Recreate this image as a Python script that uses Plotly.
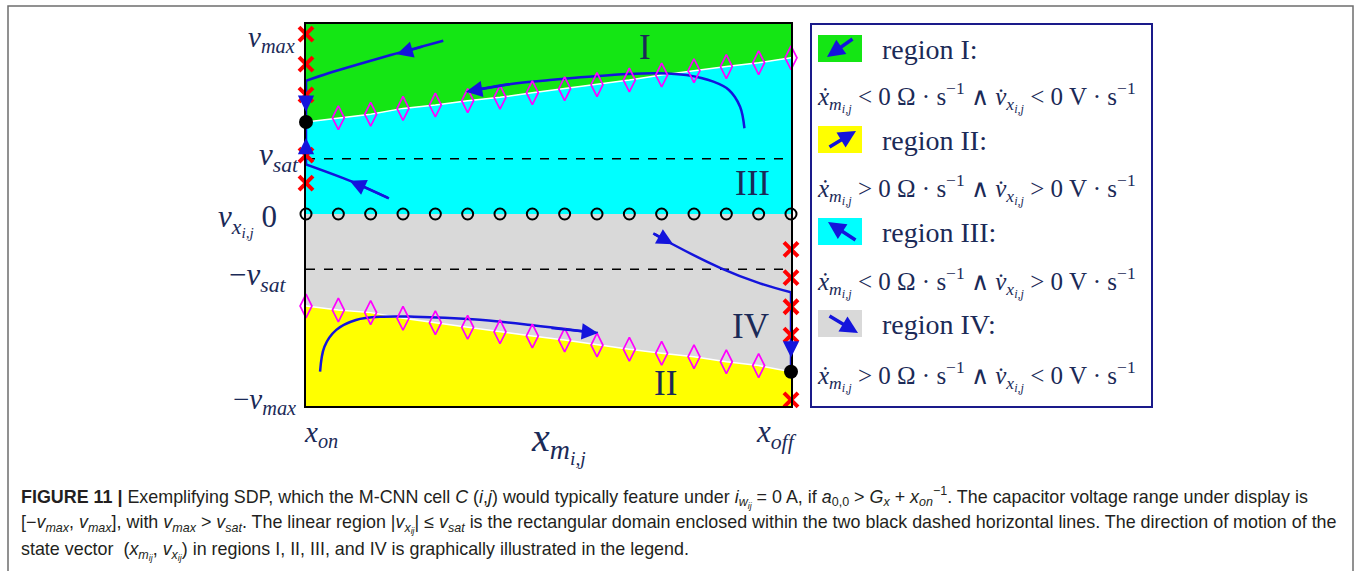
import plotly.graph_objects as go

# ---------------- data ----------------
grid_x = [0.0, 0.0667, 0.1333, 0.2, 0.2667, 0.3333, 0.4, 0.4667,
          0.5333, 0.6, 0.6667, 0.7333, 0.8, 0.8667, 0.9333, 1.0]
upper_boundary = [0.500, 0.523, 0.542, 0.574, 0.592, 0.616, 0.634, 0.659,
                  0.681, 0.703, 0.728, 0.755, 0.779, 0.801, 0.822, 0.849]
lower_boundary = [-0.500, -0.522, -0.536, -0.567, -0.591, -0.616, -0.640, -0.663,
                  -0.685, -0.712, -0.735, -0.757, -0.776, -0.803, -0.824, -0.857]
zero_nullcline = [0.0, 0.0, 0.0, 0.0, 0.0, 0.0, 0.0, 0.0,
                  0.0, 0.0, 0.0, 0.0, 0.0, 0.0, 0.0, 0.0]

v_max = 1.0
v_sat = 0.30
x_on = 0.0
x_off = 1.0

left_cross_y = [0.978, 0.815, 0.647, 0.320, 0.168]
right_cross_y = [-0.192, -0.346, -0.504, -0.658, -1.010]
equilibria_x = [0.0, 1.0]
equilibria_y = [0.500, -0.857]

traj1_x = [0.283, 0.187, 0.103, 0.046, 0.0]
traj1_y = [0.942, 0.873, 0.810, 0.765, 0.724]
traj1v_y = [0.724, 0.500]
traj2_x = [0.904, 0.895, 0.872, 0.840, 0.784, 0.728, 0.663, 0.583, 0.503, 0.423, 0.330]
traj2_y = [0.466, 0.583, 0.674, 0.719, 0.755, 0.765, 0.761, 0.746, 0.728, 0.707, 0.665]
traj3_x = [0.171, 0.095, 0.0]
traj3_y = [0.085, 0.176, 0.270]
traj3v_y = [0.270, 0.500]
traj4_x = [0.716, 0.752, 0.856, 0.936, 1.0]
traj4_y = [-0.105, -0.159, -0.295, -0.377, -0.426]
traj4v_y = [-0.426, -0.857]
traj5_x = [0.029, 0.038, 0.0625, 0.103, 0.159, 0.223, 0.343, 0.463, 0.602]
traj5_y = [-0.857, -0.721, -0.630, -0.576, -0.558, -0.558, -0.572, -0.603, -0.647]

region_names = ["I", "II", "III", "IV"]
region_colors = ["#14e614", "#ffff00", "#00ffff", "#d9d9d9"]
region_signs = [("&lt;", "&lt;"), ("&gt;", "&gt;"), ("&lt;", "&gt;"), ("&gt;", "&lt;")]

y_tick_labels = ["<i>v</i><sub><i>max</i></sub>", "<i>v</i><sub><i>sat</i></sub>",
                 "<i>v</i><sub><i>x</i><sub><i>i,j</i></sub></sub> 0",
                 "−<i>v</i><sub><i>sat</i></sub>", "−<i>v</i><sub><i>max</i></sub>"]
x_tick_labels = ["<i>x</i><sub><i>on</i></sub>", "<i>x</i><sub><i>m</i><sub><i>i,j</i></sub></sub>",
                 "<i>x</i><sub><i>off</i></sub>"]

caption_lines = [
    "<b>FIGURE 11 |</b> Exemplifying SDP, which the M-CNN cell <i>C</i> (<i>i</i>,<i>j</i>) would typically feature under "
    "<i>i</i><sub><i>w</i><sub><i>ij</i></sub></sub> = 0 A, if <i>a</i><sub>0,0</sub> &gt; <i>G</i><sub><i>x</i></sub> + "
    "<i>x</i><sub><i>on</i></sub><sup>−1</sup>. The capacitor voltage range under display is",
    "[−<i>v</i><sub><i>max</i></sub>, <i>v</i><sub><i>max</i></sub>], with <i>v</i><sub><i>max</i></sub> &gt; "
    "<i>v</i><sub><i>sat</i></sub>. The linear region |<i>v</i><sub><i>x</i><sub><i>ij</i></sub></sub>| ≤ "
    "<i>v</i><sub><i>sat</i></sub> is the rectangular domain enclosed within the two black dashed horizontal lines. "
    "The direction of motion of the",
    "state vector  (<i>x</i><sub><i>m</i><sub><i>ij</i></sub></sub>, <i>v</i><sub><i>x</i><sub><i>ij</i></sub></sub>) "
    "in regions I, II, III, and IV is graphically illustrated in the legend.",
]

# ---------------- layout geometry ----------------
W_PX, H_PX = 1356, 571
L, R, T, B = 306, 791, 24, 406
Y_LO, Y_HI = -1.0435, 1.0326


def PX(x):
    return (x - L) / (R - L)


def PY(y):
    return (B - y) / (B - T)


BLUE = "#1414dc"
NAVY = "#1b2a57"
SERIF = "Liberation Serif"

fig = go.Figure()

# region fills
fig.add_trace(go.Scatter(x=grid_x + [x_off, x_on], y=upper_boundary + [Y_HI, Y_HI],
                         fill="toself", fillcolor=region_colors[0], line=dict(width=0),
                         mode="lines", hoverinfo="skip"))
fig.add_trace(go.Scatter(x=grid_x + grid_x[::-1], y=upper_boundary + zero_nullcline[::-1],
                         fill="toself", fillcolor=region_colors[2], line=dict(width=0),
                         mode="lines", hoverinfo="skip"))
fig.add_trace(go.Scatter(x=grid_x + grid_x[::-1], y=zero_nullcline + lower_boundary[::-1],
                         fill="toself", fillcolor=region_colors[3], line=dict(width=0),
                         mode="lines", hoverinfo="skip"))
fig.add_trace(go.Scatter(x=grid_x + [x_off, x_on], y=lower_boundary + [Y_LO, Y_LO],
                         fill="toself", fillcolor=region_colors[1], line=dict(width=0),
                         mode="lines", hoverinfo="skip"))

# white boundary lines
for yb in (upper_boundary, lower_boundary):
    fig.add_trace(go.Scatter(x=grid_x, y=yb, mode="lines",
                             line=dict(color="white", width=1.5), hoverinfo="skip"))

# dashed saturation lines
for yv in (v_sat, -v_sat):
    fig.add_trace(go.Scatter(x=[x_on, x_off], y=[yv, yv], mode="lines",
                             line=dict(color="black", width=1.5, dash="dash"), hoverinfo="skip"))

# trajectories
trajs = [
    (traj1_x, traj1_y), ([x_on, x_on], traj1v_y), (traj2_x, traj2_y),
    (traj3_x, traj3_y), ([x_on, x_on], traj3v_y), (traj4_x, traj4_y),
    ([x_off, x_off], traj4v_y), (traj5_x, traj5_y),
]
for tx, ty in trajs:
    fig.add_trace(go.Scatter(x=tx, y=ty, mode="lines", line=dict(color=BLUE, width=2.5, shape="spline"),
                             hoverinfo="skip", cliponaxis=False))

# nullcline markers
fig.add_trace(go.Scatter(x=grid_x[1:], y=upper_boundary[1:], mode="markers", cliponaxis=False,
                         marker=dict(symbol="diamond-tall-open", size=17, color="#ff00ff", line=dict(width=1.7))))
fig.add_trace(go.Scatter(x=grid_x[:-1], y=lower_boundary[:-1], mode="markers", cliponaxis=False,
                         marker=dict(symbol="diamond-tall-open", size=17, color="#ff00ff", line=dict(width=1.7))))
fig.add_trace(go.Scatter(x=grid_x, y=zero_nullcline, mode="markers", cliponaxis=False,
                         marker=dict(symbol="circle-open", size=11, color="black", line=dict(width=2))))

# red crosses
fig.add_trace(go.Scatter(x=[x_on] * len(left_cross_y), y=left_cross_y, mode="markers", cliponaxis=False,
                         marker=dict(symbol="x-thin-open", size=14, color="#ff0000", line=dict(width=4, color="#ff0000"))))
fig.add_trace(go.Scatter(x=[x_off] * len(right_cross_y), y=right_cross_y, mode="markers", cliponaxis=False,
                         marker=dict(symbol="x-thin-open", size=14, color="#ff0000", line=dict(width=4, color="#ff0000"))))

# equilibria
fig.add_trace(go.Scatter(x=equilibria_x, y=equilibria_y, mode="markers", cliponaxis=False,
                         marker=dict(symbol="circle", size=14, color="black")))

annotations = []

# arrowheads on trajectories
arrow_specs = [
    ((traj1_x[1], traj1_y[1] - 0.005), (traj1_x[0] - 0.04, traj1_y[0] - 0.03)),
    ((x_on, 0.556), (x_on, 0.64)),
    ((traj2_x[-1], traj2_y[-1]), (traj2_x[-2], traj2_y[-2])),
    ((traj3_x[1] - 0.005, traj3_y[1] + 0.005), (traj3_x[0], traj3_y[0])),
    ((x_on, 0.413), (x_on, 0.33)),
    ((traj4_x[1] + 0.005, traj4_y[1] - 0.006), (traj4_x[0], traj4_y[0])),
    ((x_off, -0.78), (x_off, -0.68)),
    ((traj5_x[-1], traj5_y[-1]), (traj5_x[-2] + 0.04, traj5_y[-2] - 0.016)),
]
for (hx, hy), (tx, ty) in arrow_specs:
    annotations.append(dict(x=hx, y=hy, ax=tx, ay=ty, xref="x", yref="y", axref="x", ayref="y",
                            text="", showarrow=True, arrowhead=2, arrowsize=1.3, arrowwidth=2.5,
                            arrowcolor=BLUE))

# region labels
region_label_pos = [(645, 48), (665, 383), (752, 183), (750, 326)]
for name, (lx, ly) in zip(region_names, region_label_pos):
    annotations.append(dict(x=PX(lx), y=PY(ly), xref="paper", yref="paper", text=name, showarrow=False,
                            font=dict(family=SERIF, size=35, color=NAVY), xanchor="center", yanchor="middle"))

# y tick labels
y_label_pos = [(297, 39), (301, 157), (279, 220), (289, 277), (298, 401)]
y_label_size = [29, 31, 31, 31, 29]
for lab, (lx, ly), fs in zip(y_tick_labels, y_label_pos, y_label_size):
    annotations.append(dict(x=PX(lx), y=PY(ly), xref="paper", yref="paper", text=lab, showarrow=False,
                            font=dict(family=SERIF, size=fs, color=NAVY), xanchor="right", yanchor="middle"))
# x tick labels
x_label_pos = [(321, 434, 29), (558, 442, 40), (776, 434, 31)]
for lab, (lx, ly, fs) in zip(x_tick_labels, x_label_pos):
    annotations.append(dict(x=PX(lx), y=PY(ly), xref="paper", yref="paper", text=lab, showarrow=False,
                            font=dict(family=SERIF, size=fs, color=NAVY), xanchor="center", yanchor="middle"))

# legend box
shapes = [
    dict(type="rect", xref="paper", yref="paper", x0=PX(811), x1=PX(1152), y0=PY(407), y1=PY(24),
         line=dict(color="#1a1a8a", width=2), fillcolor="rgba(0,0,0,0)"),
    dict(type="rect", xref="paper", yref="paper", x0=PX(8), x1=PX(1353), y0=PY(640), y1=PY(6),
         line=dict(color="#6e6e6e", width=1.5), fillcolor="rgba(0,0,0,0)"),
]
swatch_top = [35, 126, 218, 310]
arrow_px = [((827, 57), (854, 38)), ((856, 131), (828, 148)), ((828, 222), (857, 241)), ((858, 333), (828, 315))]
eq_y = [97, 189, 282, 376]
for i, name in enumerate(region_names):
    st = swatch_top[i]
    shapes.append(dict(type="rect", xref="paper", yref="paper", x0=PX(818), x1=PX(862),
                       y0=PY(st + 27), y1=PY(st), line=dict(width=0), fillcolor=region_colors[i]))
    (hx, hy), (tx, ty) = arrow_px[i]
    annotations.append(dict(x=PX(hx), y=PY(hy), xref="paper", yref="paper", ax=tx - hx, ay=ty - hy,
                            text="", showarrow=True, arrowhead=2, arrowsize=1.0, arrowwidth=3.5,
                            arrowcolor=BLUE))
    annotations.append(dict(x=PX(880), y=PY(st + 14), xref="paper", yref="paper",
                            text="region " + name + ":", showarrow=False, xanchor="left", yanchor="middle",
                            font=dict(family=SERIF, size=28, color=NAVY)))
    s1, s2 = region_signs[i]
    eq = ("<i>ẋ</i><sub><i>m</i><sub><i>i,j</i></sub></sub> " + s1 + " 0 Ω · s<sup>−1</sup> ∧ "
          "<i>v̇</i><sub><i>x</i><sub><i>i,j</i></sub></sub> " + s2 + " 0 V · s<sup>−1</sup>")
    annotations.append(dict(x=PX(815), y=PY(eq_y[i]), xref="paper", yref="paper", text=eq,
                            showarrow=False, xanchor="left", yanchor="middle",
                            font=dict(family=SERIF, size=25, color=NAVY)))

# caption
cap_y = [497, 524, 551]
for line, cy in zip(caption_lines, cap_y):
    annotations.append(dict(x=PX(19), y=PY(cy), xref="paper", yref="paper", text=line, showarrow=False,
                            xanchor="left", yanchor="middle",
                            font=dict(family="Liberation Sans", size=17.9, color="#231f20")))

fig.update_layout(
    width=W_PX, height=H_PX, margin=dict(l=L, r=W_PX - R, t=T, b=H_PX - B, pad=0),
    paper_bgcolor="white", plot_bgcolor="white", showlegend=False,
    xaxis=dict(range=[x_on, x_off], showgrid=False, zeroline=False, showticklabels=False,
               showline=True, mirror=True, linecolor="black", linewidth=1.5, ticks=""),
    yaxis=dict(range=[Y_LO, Y_HI], showgrid=False, zeroline=False, showticklabels=False,
               showline=True, mirror=True, linecolor="black", linewidth=1.5, ticks=""),
    annotations=annotations, shapes=shapes,
)

fig.write_html("out.html")
